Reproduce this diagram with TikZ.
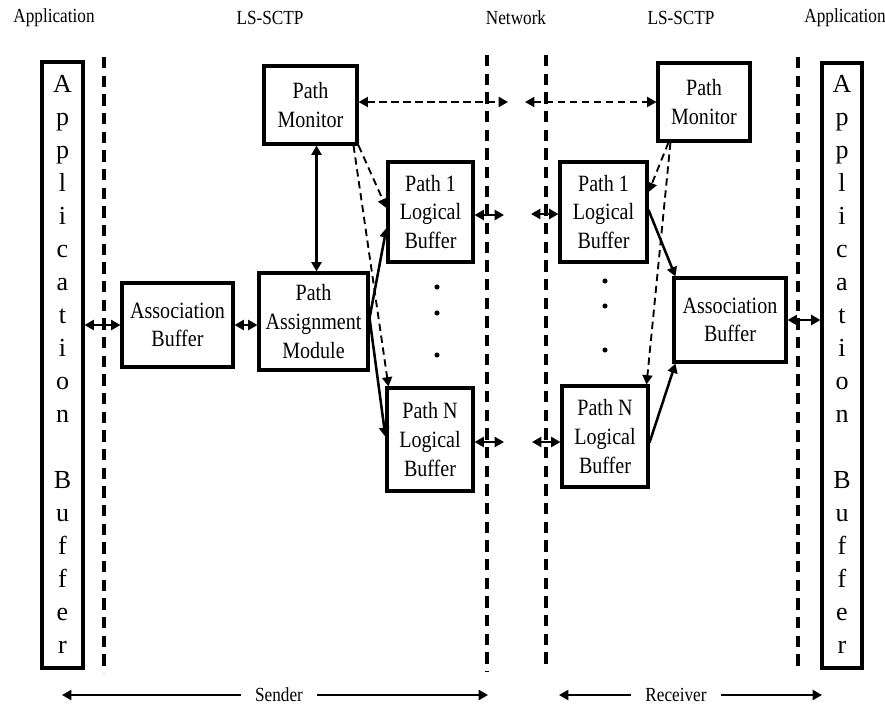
\documentclass[tikz,border=0pt]{standalone}
\usepackage{fontspec}
\setmainfont{Liberation Serif}
\newfontfamily\bxfont[FakeStretch=0.86]{Liberation Serif}
\newfontfamily\hdfont[FakeStretch=0.86]{Liberation Serif}
\usetikzlibrary{arrows.meta}
\begin{document}
\begin{tikzpicture}[x=0.75pt,y=-0.75pt,
  >={Triangle[length=7pt,width=7.5pt]},
  bx/.style 2 args={draw,line width=2.3pt,inner sep=0pt,align=center,
    minimum width={#1*0.75pt},minimum height={#2*0.75pt},
    font=\bxfont\fontsize{17.5}{21.5}\selectfont},
  apl/.style={inner sep=0pt,anchor=base,font=\fontsize{19.5}{22}\selectfont},
  hd/.style={inner sep=0pt,font=\hdfont\fontsize{15}{17}\selectfont},
  vline/.style={line width=2.6pt,dash pattern=on 8.5pt off 5.5pt},
  sarr/.style={line width=1.9pt},
  darr/.style={line width=1.4pt,dash pattern=on 5.5pt off 3.5pt},
  dotn/.style={circle,fill,inner sep=0pt,minimum size=3.8pt},
  ft/.style={inner ysep=0pt,inner xsep=10.5pt,font=\hdfont\fontsize{15}{17}\selectfont}]
\useasboundingbox (0,0) rectangle (885,707);

% headers
\node[hd] (h1) at (54,18) {Application};
\node[hd] (h2) at (270,18) {LS-SCTP};
\node[hd] (h3) at (516,18) {Network};
\node[hd] (h4) at (681,18) {LS-SCTP};
\node[hd] (h5) at (845,18) {Application};

% dashed separators
\draw[vline] (104,57) -- (104,673);
\draw[vline] (487,55) -- (487,672);
\draw[vline] (546,55) -- (546,670);
\draw[vline] (798,57) -- (798,670);

% application boxes
\node[bx={41}{606}] (lapp) at (62.5,365) {};
\node[bx={40}{605}] (rapp) at (842,365.5) {};
\foreach \ch [count=\i from 0] in {A,p,p,l,i,c,a,t,i,o,n,{},B,u,f,f,e,r}{
  \node[apl] (la\i) at (62.5,{92+33*\i}) {\ch};
  \node[apl] (ra\i) at (842,{92+33*\i}) {\ch};
}

% sender side
\node[bx={111}{84}] (lab) at (177.5,325) {Association\\Buffer};
\node[bx={109}{97}] (lpam) at (313.5,321.5) {Path\\Assignment\\Module};
\node[bx={93}{78}] (lpm) at (310.5,105) {Path\\Monitor};
\node[bx={85}{100}] (lp1) at (430.5,212) {Path 1\\Logical\\Buffer};
\node[bx={86}{103}] (lpn) at (430,439.5) {Path N\\Logical\\Buffer};

% receiver side
\node[bx={92}{78}] (rpm) at (704,102) {Path\\Monitor};
\node[bx={87}{100}] (rp1) at (603.5,212) {Path 1\\Logical\\Buffer};
\node[bx={86}{101}] (rpn) at (605,436.5) {Path N\\Logical\\Buffer};
\node[bx={112}{84}] (rab) at (730,320) {Association\\Buffer};

% dots
\node[dotn] (d1) at (437,287) {};
\node[dotn] (d2) at (437,313) {};
\node[dotn] (d3) at (437,355) {};
\node[dotn] (d4) at (605,281) {};
\node[dotn] (d5) at (605,306) {};
\node[dotn] (d6) at (605,350) {};

% network side free ends
\coordinate (nl) at (508,102);
\coordinate (nr) at (525,102);
\coordinate (n1l) at (504,215);
\coordinate (n1r) at (531,214);
\coordinate (nnl) at (504,442);
\coordinate (nnr) at (532,442);

% sender connectors
\draw[sarr,<->] (lab.west) -- (lab.west -| lapp.east);
\draw[sarr,<->] (lab.east) -- (lab.east -| lpam.west);
\draw[sarr,<->] ([xshift=4.5pt]lpm.south) -- ([xshift=4.5pt]lpm.south |- lpam.north);
\draw[sarr,->] ([yshift=2.6pt]lpam.east) -- ([yshift=-12pt]lp1.west);
\draw[sarr,->] ([yshift=2.6pt]lpam.east) -- ([yshift=2pt]lpn.west);
\draw[darr,->] (lpm.south east) -- ([yshift=3pt]lp1.west);
\draw[darr,->] ([xshift=-3.75pt]lpm.south east) -- ([xshift=2.25pt]lpn.north west);
\draw[darr,<->] (lpm.east |- nl) -- (nl);
\draw[sarr,<->] (lp1.east |- n1l) -- (n1l);
\draw[sarr,<->] (lpn.east |- nnl) -- (nnl);

% receiver connectors
\draw[darr,<->] (nr) -- (nr -| rpm.west);
\draw[sarr,<->] (n1r) -- (n1r -| rp1.west);
\draw[sarr,<->] (nnr) -- (nnr -| rpn.west);
\draw[darr,->] ([xshift=9pt]rpm.south west) -- ([yshift=15pt]rp1.east);
\draw[darr,->] ([xshift=10.5pt]rpm.south west) -- ([xshift=-2.25pt]rpn.north east);
\draw[sarr,->] ([yshift=1.5pt]rp1.east) -- ([xshift=2.25pt]rab.north west);
\draw[sarr,->] ([yshift=-4.5pt]rpn.east) -- ([xshift=2.25pt]rab.south west);
\draw[sarr,<->] (rab.east) -- (rab.east -| rapp.west);

% footer
\coordinate (sl) at (62,695);
\coordinate (sr) at (488,695);
\coordinate (rl) at (559,695);
\coordinate (rr) at (822,695);
\node[ft] (snd) at (279,695) {Sender};
\node[ft] (rcv) at (676,695) {Receiver};
\draw[line width=1.6pt,->] (snd.west) -- (sl);
\draw[line width=1.6pt,->] (snd.east) -- (sr);
\draw[line width=1.6pt,->] (rcv.west) -- (rl);
\draw[line width=1.6pt,->] (rcv.east) -- (rr);
\end{tikzpicture}
\end{document}
